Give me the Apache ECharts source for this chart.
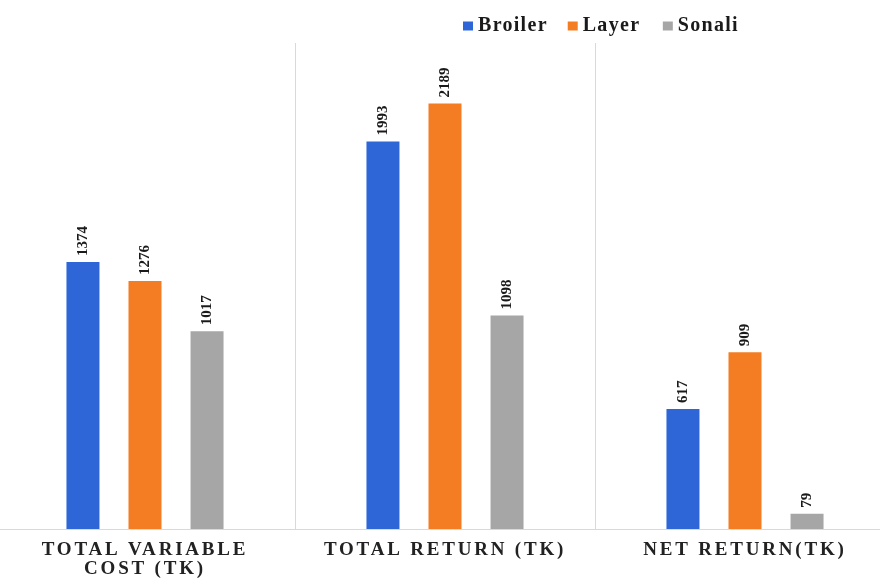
<!DOCTYPE html>
<html>
<head>
<meta charset="utf-8">
<script src="https://cdn.jsdelivr.net/npm/echarts@6/dist/echarts.min.js"></script>
<style>html,body{margin:0;padding:0;background:#fff}#c{width:880px;height:581px}</style>
</head>
<body>
<div id="c"></div>
<script>
const categories = ['TOTAL VARIABLE\nCOST (TK)', 'TOTAL RETURN (TK)', 'NET RETURN(TK)'];
const seriesNames = ['Broiler', 'Layer', 'Sonali'];
const broiler = [1374, 1993, 617];
const layer = [1276, 2189, 909];
const sonali = [1017, 1098, 79];
const colors = ['#2e66d8', '#f47d23', '#a6a6a6'];

// letter spacing for axis labels and legend (canvas letterSpacing)
const spacing = {};
categories.join('\n').split('\n').forEach(s => { spacing[s] = '2.8px'; });
seriesNames.forEach(s => { spacing[s] = '1.3px'; });
const proto = CanvasRenderingContext2D.prototype;
const origFill = proto.fillText;
proto.fillText = function (text) {
  if ('letterSpacing' in this) {
    const want = spacing[text] || '0px';
    if (this.letterSpacing !== want) {
      const f = this.font;
      this.letterSpacing = want;
      this.font = f;
    }
  }
  origFill.apply(this, arguments);
};

const chart = echarts.init(document.getElementById('c'));
const serif = '"Liberation Serif", "Times New Roman", serif';
const mk = (name, data, color) => ({
  name, type: 'bar', data, barWidth: 33, barGap: '88%',
  itemStyle: { color },
  label: {
    show: true, position: 'top', rotate: 90, align: 'left', verticalAlign: 'middle',
    distance: 6, fontFamily: serif, fontWeight: 'bold', fontSize: 15, color: '#1a1a1a'
  }
});
chart.setOption({
  animation: false,
  legend: {
    top: 11, left: 458, itemWidth: 10, itemHeight: 9, itemGap: 29, icon: 'rect',
    textStyle: { fontFamily: serif, fontWeight: 'bold', fontSize: 20, color: '#1a1a1a' },
    data: seriesNames
  },
  grid: { left: -5, width: 900, top: 43, bottom: 52, outerBoundsMode: 'none', containLabel: false },
  xAxis: {
    type: 'category', data: categories,
    axisLine: { lineStyle: { color: '#d9d9d9', width: 1 } },
    axisTick: { show: false },
    splitLine: { show: true, lineStyle: { color: '#d9d9d9', width: 1 } },
    axisLabel: {
      margin: 12, fontFamily: serif, fontWeight: 'bold', fontSize: 19, color: '#222',
      lineHeight: 19, interval: 0
    }
  },
  yAxis: { type: 'value', min: 0, max: 2500, show: false, splitLine: { show: false } },
  series: [mk(seriesNames[0], broiler, colors[0]), mk(seriesNames[1], layer, colors[1]), mk(seriesNames[2], sonali, colors[2])]
});
</script>
</body>
</html>
